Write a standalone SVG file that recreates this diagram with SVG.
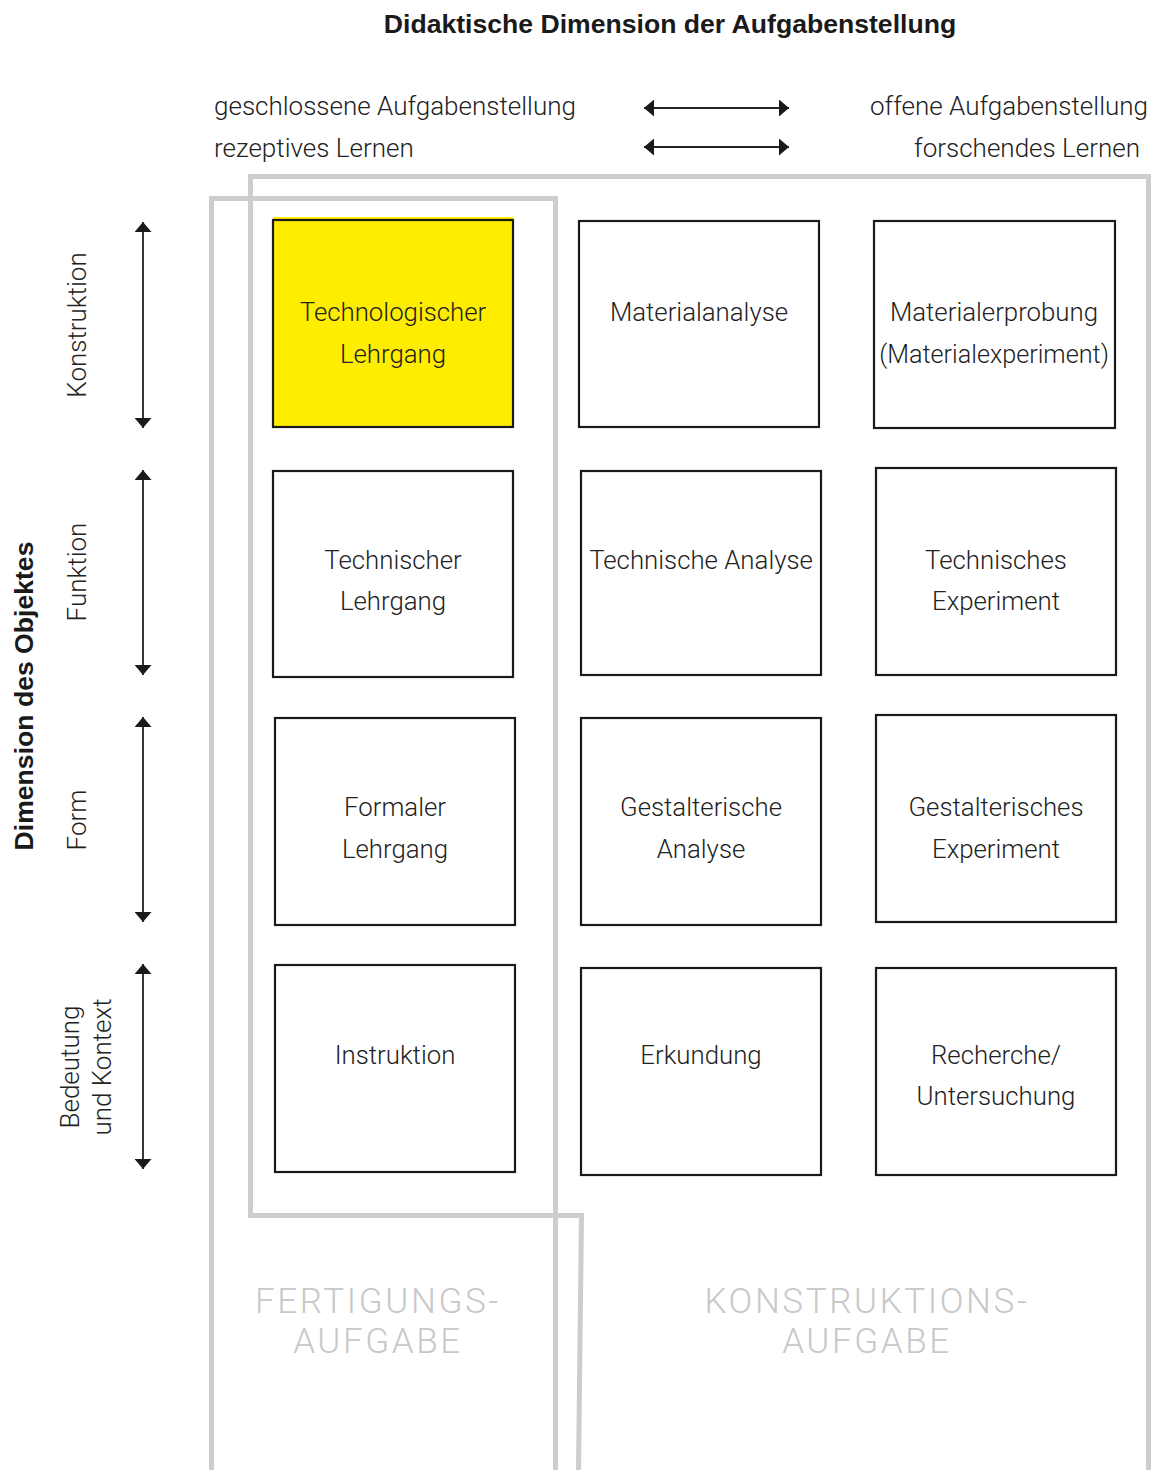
<svg xmlns="http://www.w3.org/2000/svg" width="1151" height="1470" viewBox="0 0 1151 1470">
  <style>
    .title { font-family: "Liberation Sans", Arial, sans-serif; font-weight: bold; font-size: 26.6px; fill: #1a1a1a; }
    .lbl { font-family: Roboto, "Liberation Sans", sans-serif; font-weight: 300; font-size: 26px; fill: #222; }
    .box text { font-family: Roboto, "Liberation Sans", sans-serif; font-weight: 300; font-size: 25.8px; fill: #222; text-anchor: middle; }
    .box text.narrow { font-size: 25.2px; }
    .box rect.frame { fill: none; stroke: #1a1a1a; stroke-width: 2.2; }
    .area { fill: none; stroke: #cdcdcf; stroke-width: 5; }
    .area-lbl { font-family: Roboto, "Liberation Sans", sans-serif; font-weight: 300; font-size: 35px; fill: #c8c8ca; text-anchor: middle; letter-spacing: 2.6px; }
    .arrow { stroke: #222; stroke-width: 1.8; fill: none; marker-start: url(#head); marker-end: url(#head); }
  </style>
  <defs>
    <marker id="head" viewBox="0 0 10 17" refX="10" refY="8.5" markerWidth="10" markerHeight="17" markerUnits="userSpaceOnUse" orient="auto-start-reverse">
      <path d="M0,0 L10,8.5 L0,17 z" fill="#1a1a1a"/>
    </marker>
  </defs>

  <rect width="1151" height="1470" fill="#fff"/>

  <!-- task-type areas -->
  <g id="area-fertigung">
    <path class="area" d="M211.5,1470 L211.5,198.5 L555.5,198.5 L555.5,1470"/>
    <text class="area-lbl" x="378" y="1313">FERTIGUNGS-</text>
    <text class="area-lbl" x="378" y="1353">AUFGABE</text>
  </g>
  <g id="area-konstruktion">
    <path class="area" d="M578.5,1470 L581.5,1215.5 L250.5,1215.5 L250.5,176.5 L1148.5,176.5 L1148.5,1470"/>
    <text class="area-lbl" x="867" y="1313">KONSTRUKTIONS-</text>
    <text class="area-lbl" x="867" y="1353">AUFGABE</text>
  </g>

  <!-- headings -->
  <g id="heading-didaktik">
    <text class="title" x="670" y="33" text-anchor="middle">Didaktische Dimension der Aufgabenstellung</text>
    <text class="lbl" x="214" y="115">geschlossene Aufgabenstellung</text>
    <text class="lbl" x="214" y="157">rezeptives Lernen</text>
    <text class="lbl" x="1148" y="115" text-anchor="end">offene Aufgabenstellung</text>
    <text class="lbl" x="1140" y="157" text-anchor="end">forschendes Lernen</text>
  </g>
  <g id="heading-objekt">
    <text class="title" transform="translate(33,696) rotate(-90)" text-anchor="middle">Dimension des Objektes</text>
    <text class="lbl" transform="translate(86,325) rotate(-90)" text-anchor="middle">Konstruktion</text>
    <text class="lbl" transform="translate(86,572) rotate(-90)" text-anchor="middle">Funktion</text>
    <text class="lbl" transform="translate(86,820) rotate(-90)" text-anchor="middle">Form</text>
    <text class="lbl" transform="translate(79,1067) rotate(-90)" text-anchor="middle">Bedeutung</text>
    <text class="lbl" transform="translate(111,1067) rotate(-90)" text-anchor="middle">und Kontext</text>
  </g>

  <!-- connectors -->
  <g id="connectors">
    <line class="arrow" x1="644" y1="108" x2="789" y2="108"/>
    <line class="arrow" x1="644" y1="147" x2="789" y2="147"/>
    <line class="arrow" x1="143" y1="222" x2="143" y2="428"/>
    <line class="arrow" x1="143" y1="470" x2="143" y2="675"/>
    <line class="arrow" x1="143" y1="717" x2="143" y2="922"/>
    <line class="arrow" x1="143" y1="964" x2="143" y2="1169"/>
  </g>

  <!-- row: Konstruktion -->
  <g id="technologischer-lehrgang" class="box">
    <rect x="273" y="217" width="240" height="210" fill="#ffed00"/>
    <rect class="frame" x="273" y="220" width="240" height="207"/>
    <text x="393" y="321">Technologischer</text>
    <text x="393" y="363">Lehrgang</text>
  </g>
  <g id="materialanalyse" class="box">
    <rect class="frame" x="579" y="221" width="240" height="206"/>
    <text x="699" y="321">Materialanalyse</text>
  </g>
  <g id="materialerprobung" class="box">
    <rect class="frame" x="874" y="221" width="241" height="207"/>
    <text x="994" y="321">Materialerprobung</text>
    <text class="narrow" x="994" y="363">(Materialexperiment)</text>
  </g>

  <!-- row: Funktion -->
  <g id="technischer-lehrgang" class="box">
    <rect class="frame" x="273" y="471" width="240" height="206"/>
    <text x="393" y="569">Technischer</text>
    <text x="393" y="610">Lehrgang</text>
  </g>
  <g id="technische-analyse" class="box">
    <rect class="frame" x="581" y="471" width="240" height="204"/>
    <text x="701" y="569">Technische Analyse</text>
  </g>
  <g id="technisches-experiment" class="box">
    <rect class="frame" x="876" y="468" width="240" height="207"/>
    <text x="996" y="569">Technisches</text>
    <text x="996" y="610">Experiment</text>
  </g>

  <!-- row: Form -->
  <g id="formaler-lehrgang" class="box">
    <rect class="frame" x="275" y="718" width="240" height="207"/>
    <text x="395" y="816">Formaler</text>
    <text x="395" y="858">Lehrgang</text>
  </g>
  <g id="gestalterische-analyse" class="box">
    <rect class="frame" x="581" y="718" width="240" height="207"/>
    <text x="701" y="816">Gestalterische</text>
    <text x="701" y="858">Analyse</text>
  </g>
  <g id="gestalterisches-experiment" class="box">
    <rect class="frame" x="876" y="715" width="240" height="207"/>
    <text x="996" y="816">Gestalterisches</text>
    <text x="996" y="858">Experiment</text>
  </g>

  <!-- row: Bedeutung und Kontext -->
  <g id="instruktion" class="box">
    <rect class="frame" x="275" y="965" width="240" height="207"/>
    <text x="395" y="1064">Instruktion</text>
  </g>
  <g id="erkundung" class="box">
    <rect class="frame" x="581" y="968" width="240" height="207"/>
    <text x="701" y="1064">Erkundung</text>
  </g>
  <g id="recherche" class="box">
    <rect class="frame" x="876" y="968" width="240" height="207"/>
    <text x="996" y="1064">Recherche/</text>
    <text x="996" y="1105">Untersuchung</text>
  </g>
</svg>
